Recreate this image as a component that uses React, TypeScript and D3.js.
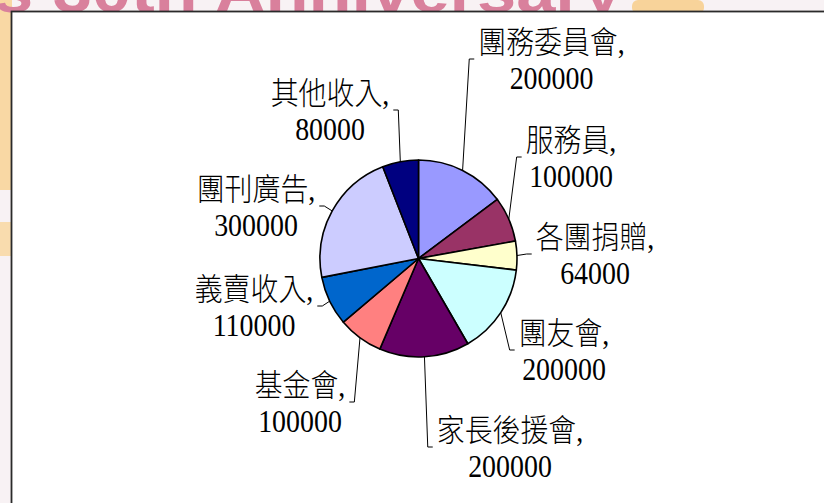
import React from "react";
import * as d3 from "d3";

const categories = ["團務委員會", "服務員", "各團捐贈", "團友會", "家長後援會", "基金會", "義賣收入", "團刊廣告", "其他收入"];
const values = [200000, 100000, 64000, 200000, 200000, 100000, 110000, 300000, 80000];
const colors = ["#9999FF", "#993366", "#FFFFCC", "#CCFFFF", "#660066", "#FF8080", "#0066CC", "#CCCCFF", "#000080"];
// label centre offsets (layout) relative to pie centre
const labelPos: [number, number][] = [
  [133, -199.5], [152.5, -101.5], [176.5, -4.5], [145.5, 91.5], [91.5, 188.5],
  [-118.5, 143.5], [-164.5, 47.5], [-162.5, -52.5], [-88.5, -148.5],
];

const W = 824, H = 503;
const CX = 418.5, CY = 258.5, R = 98.5;
const FS = 31, SX = 0.9;
const CJKW = FS * SX, COMMAW = FS * 0.25 * SX, DIGW = FS * 0.5 * SX;
const FONT = "'Liberation Serif', 'Noto Sans CJK TC', serif";

export default function App() {
  const pie = d3.pie<number>().sort(null).value((d) => d)(values);
  const arc = d3.arc<d3.PieArcDatum<number>>().innerRadius(0).outerRadius(R);

  return (
    <svg width={W} height={H} style={{ position: "absolute", left: 0, top: 0, display: "block" }}>
      <rect x={0} y={0} width={W} height={H} fill="#F8F2F4" />
      <rect x={0} y={0} width={12} height={190} fill="#F9D8A4" />
      <rect x={0} y={222} width={12} height={34} fill="#F9DCAE" />
      <rect x={632} y={0} width={72} height={14} fill="#F8D39A" rx={6} />
      <text x={-6} y={12} fontFamily="'Liberation Sans', sans-serif" fontWeight="bold" fontSize={62}
        fill="#D9809C" textLength={628} lengthAdjust="spacingAndGlyphs">s 30th Anniversary</text>
      <rect x={11.5} y={11.5} width={W} height={H} fill="#FFFFFF" stroke="#2a2a2a" strokeWidth={1.8} />
      <g transform={`translate(${CX},${CY})`}>
        {pie.map((p, i) => (
          <path key={i} d={arc(p) || ""} fill={colors[i]} stroke="#000" strokeWidth={1.6} strokeLinejoin="round" />
        ))}
        {pie.map((p, i) => {
          const mid = (p.startAngle + p.endAngle) / 2;
          const sx = R * Math.sin(mid), sy = -R * Math.cos(mid);
          const [lx, ly] = labelPos[i];
          const w1 = categories[i].length * CJKW + COMMAW;
          const w2 = String(values[i]).length * DIGW;
          const bw = Math.max(w1, w2);
          const right = lx > 0;
          const tx = right ? lx - bw / 2 - 4 : lx + bw / 2 + 4;
          const ex = right ? tx - 5 : tx + 5;
          return (
            <g key={"l" + i}>
              <path d={`M${sx},${sy}L${ex},${ly}L${tx},${ly}`} fill="none" stroke="#000" strokeWidth={1} />
              <g transform={`translate(${lx},${ly}) scale(${SX},1)`} fontFamily={FONT} fontSize={FS} fill="#000" textAnchor="middle">
                <text x={0} y={-6} fontWeight={300}>{categories[i] + ","}</text>
                <text x={0} y={30}>{String(values[i])}</text>
              </g>
            </g>
          );
        })}
      </g>
    </svg>
  );
}
